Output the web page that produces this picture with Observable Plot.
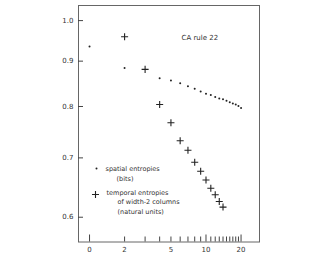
<!DOCTYPE html>
<html>
<head>
<meta charset="utf-8">
<script src="https://cdn.jsdelivr.net/npm/d3@7"></script>
<script src="https://cdn.jsdelivr.net/npm/@observablehq/plot@0.6"></script>
<style>
  html, body { margin: 0; padding: 0; background: #fff; }
  #chart svg { display: block; }
</style>
</head>
<body>
<div id="chart"></div>
<script>
// Spatial entropies (bits), block length n
const spatialN = [1, 2, 4, 5, 6, 7, 8, 9, 10, 11, 12, 13, 14, 15, 16, 17, 18, 19, 20];
const spatialH = [0.935, 0.884, 0.861, 0.856, 0.850, 0.843, 0.838, 0.832, 0.827, 0.824, 0.820, 0.817, 0.815, 0.812, 0.809, 0.806, 0.804, 0.801, 0.797];
// Temporal entropies of width-2 columns (natural units)
const temporalN = [2, 3, 4, 5, 6, 7, 8, 9, 10, 11, 12, 13, 14];
const temporalH = [0.959, 0.881, 0.804, 0.767, 0.732, 0.714, 0.692, 0.676, 0.661, 0.647, 0.636, 0.625, 0.616];

const xTickValues = [1, 2, 5, 10, 20];
const xTickLabels = ["0", "2", "5", "10", "20"];
const xMinorTicks = [2, 3, 4, 5, 6, 7, 8, 9, 11, 12, 13, 14, 15, 16, 17, 18, 19];
const xMajorTicks = [1, 10, 20];
const yTickValues = [0.6, 0.7, 0.8, 0.9, 1.0];
const yTickLabels = ["0.6", "0.7", "0.8", "0.9", "1.0"];

const title = "CA rule 22";
const legendSpatial = ["spatial entropies", "(bits)"];
const legendTemporal = ["temporal entropies", "of width-2 columns", "(natural units)"];

const spatial = spatialN.map((n, i) => ({n, h: spatialH[i]}));
const temporal = temporalN.map((n, i) => ({n, h: temporalH[i]}));
const xLabels = xTickValues.map((v, i) => ({v, t: xTickLabels[i]}));
const yLabels = yTickValues.map((v, i) => ({v, t: yTickLabels[i]}));

const ink = "#333";
const font = "DejaVu Sans, sans-serif";
const plusR = 2.4;

const plot = Plot.plot({
  width: 323,
  height: 257,
  marginLeft: 78,
  marginRight: 64,
  marginTop: 5,
  marginBottom: 15.5,
  style: {fontFamily: font, fontSize: "7px", color: ink, background: "#fff"},
  x: {type: "log", domain: [0.804, 28.8], axis: null},
  y: {type: "log", domain: [0.5626, 1.04], axis: null},
  marks: [
    Plot.frame({stroke: "#666", strokeWidth: 1}),
    Plot.text(xLabels, {x: "v", text: "t", frameAnchor: "bottom", dy: 8, lineAnchor: "middle", fontSize: 7, fill: ink}),
    Plot.text(yLabels, {y: "v", text: "t", frameAnchor: "left", dx: -5, textAnchor: "end", fontSize: 7, fill: ink}),
    Plot.tickX(xMinorTicks, {x: (d) => d, insetTop: 236.5 - 5, stroke: "#444"}),
    Plot.tickX(xMajorTicks, {x: (d) => d, insetTop: 236.5 - 7, stroke: "#444"}),
    Plot.tickY(yTickValues, {y: (d) => d, insetRight: 181 - 5, stroke: "#444"}),
    Plot.dot(spatial, {x: "n", y: "h", r: 1, fill: "#222", stroke: null}),
    Plot.dot(temporal, {x: "n", y: "h", symbol: "plus", r: plusR, stroke: "#222", strokeWidth: 1.1}),
    // title
    Plot.text([title], {frameAnchor: "top-left", dx: 103, dy: 32, textAnchor: "start", lineAnchor: "middle", fontSize: 7, fill: ink}),
    // legend
    Plot.dot([0], {frameAnchor: "top-left", dx: 18, dy: 163, r: 1, fill: "#222", stroke: null}),
    Plot.text([legendSpatial[0]], {frameAnchor: "top-left", dx: 27, dy: 163, textAnchor: "start", lineAnchor: "middle", fontSize: 6.5, fill: ink}),
    Plot.text([legendSpatial[1]], {frameAnchor: "top-left", dx: 38, dy: 173, textAnchor: "start", lineAnchor: "middle", fontSize: 6.5, fill: ink}),
    Plot.dot([0], {frameAnchor: "top-left", dx: 17, dy: 189, symbol: "plus", r: plusR, stroke: "#222", strokeWidth: 1.1}),
    Plot.text([legendTemporal[0]], {frameAnchor: "top-left", dx: 28, dy: 187, textAnchor: "start", lineAnchor: "middle", fontSize: 6.5, fill: ink}),
    Plot.text([legendTemporal[1]], {frameAnchor: "top-left", dx: 39, dy: 196, textAnchor: "start", lineAnchor: "middle", fontSize: 6.5, fill: ink}),
    Plot.text([legendTemporal[2]], {frameAnchor: "top-left", dx: 39, dy: 206, textAnchor: "start", lineAnchor: "middle", fontSize: 6.5, fill: ink})
  ]
});
document.getElementById("chart").appendChild(plot);
</script>
</body>
</html>
